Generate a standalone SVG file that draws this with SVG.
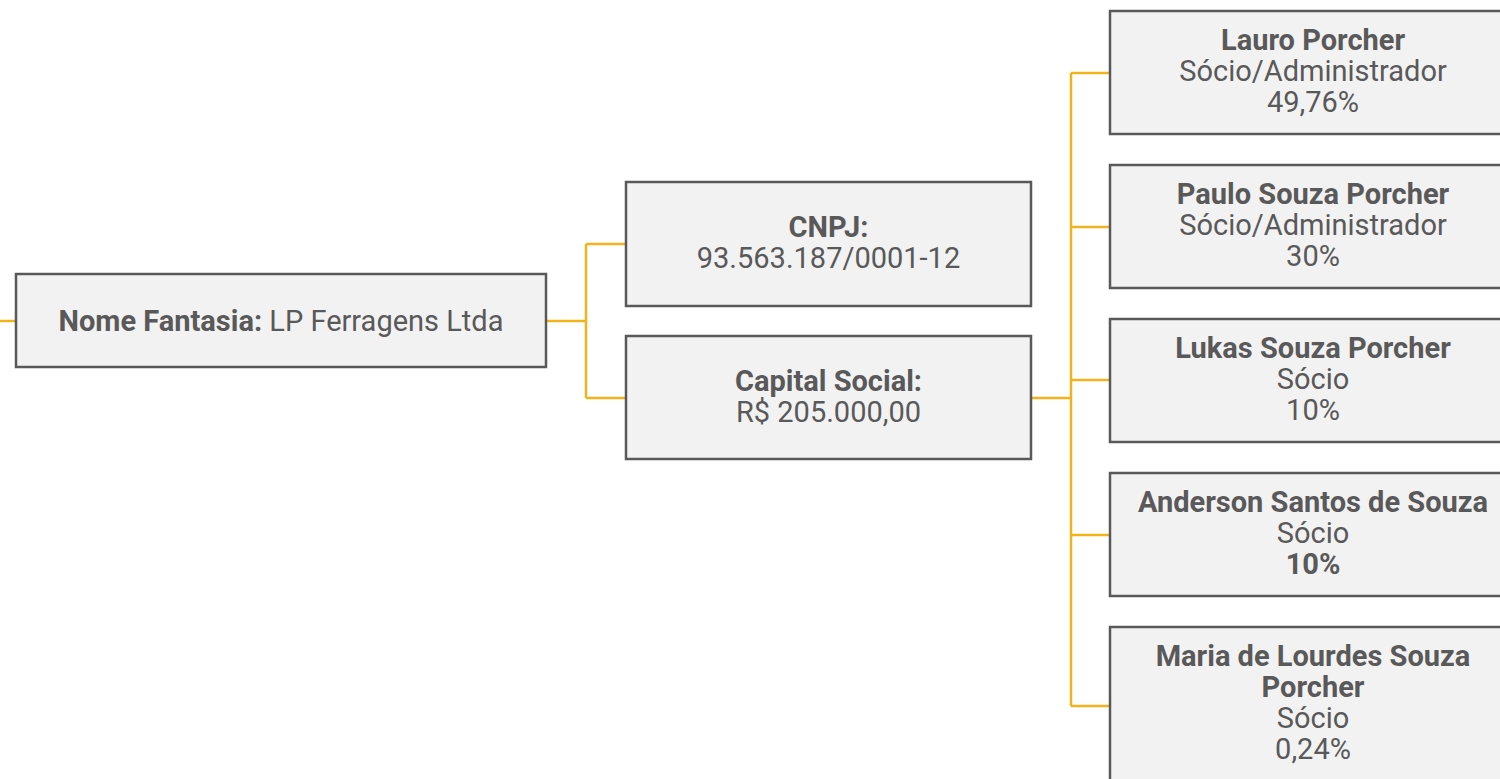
<svg xmlns="http://www.w3.org/2000/svg" width="1500" height="779" viewBox="0 0 1500 779">
<style>
.box{fill:#f2f2f2;stroke:#595959;stroke-width:2.5}
.t{font-family:Roboto,"Liberation Sans",sans-serif;font-size:29px;fill:#595959;text-anchor:middle}
.b{font-weight:bold}
.c{fill:none;stroke:#f1b31c;stroke-width:2.5}
</style>
<rect width="1500" height="779" fill="#fff"/>
<g id="connectors">
<path class="c" d="M0 321H16"/>
<path class="c" d="M546 321H586M586 244V398M586 244H626M586 398H626"/>
<path class="c" d="M1031 398H1071M1071 73V706M1071 73H1110M1071 227H1110M1071 380H1110M1071 535H1110M1071 706H1110"/>
</g>
<g id="root">
<rect class="box" x="16" y="274" width="530" height="93"/>
<text class="t" x="281" y="331"><tspan class="b">Nome Fantasia:</tspan> LP Ferragens Ltda</text>
</g>
<g id="cnpj">
<rect class="box" x="626" y="182" width="405" height="124"/>
<text class="t b" x="828.5" y="237">CNPJ:</text>
<text class="t" x="828.5" y="268">93.563.187/0001-12</text>
</g>
<g id="capital">
<rect class="box" x="626" y="336" width="405" height="123"/>
<text class="t b" x="828.5" y="391">Capital Social:</text>
<text class="t" x="828.5" y="422">R$ 205.000,00</text>
</g>
<g id="lauro">
<rect class="box" x="1110" y="11" width="406" height="123"/>
<text class="t b" x="1313" y="50">Lauro Porcher</text>
<text class="t" x="1313" y="81">Sócio/Administrador</text>
<text class="t" x="1313" y="112">49,76%</text>
</g>
<g id="paulo">
<rect class="box" x="1110" y="165" width="406" height="123"/>
<text class="t b" x="1313" y="204">Paulo Souza Porcher</text>
<text class="t" x="1313" y="235">Sócio/Administrador</text>
<text class="t" x="1313" y="266">30%</text>
</g>
<g id="lukas">
<rect class="box" x="1110" y="319" width="406" height="123"/>
<text class="t b" x="1313" y="358">Lukas Souza Porcher</text>
<text class="t" x="1313" y="389">Sócio</text>
<text class="t" x="1313" y="420">10%</text>
</g>
<g id="anderson">
<rect class="box" x="1110" y="473" width="406" height="123"/>
<text class="t b" x="1313" y="512">Anderson Santos de Souza</text>
<text class="t" x="1313" y="543">Sócio</text>
<text class="t b" x="1313" y="574">10%</text>
</g>
<g id="maria">
<rect class="box" x="1110" y="627" width="406" height="160"/>
<text class="t b" x="1313" y="666">Maria de Lourdes Souza</text>
<text class="t b" x="1313" y="697">Porcher</text>
<text class="t" x="1313" y="728">Sócio</text>
<text class="t" x="1313" y="759">0,24%</text>
</g>
</svg>
